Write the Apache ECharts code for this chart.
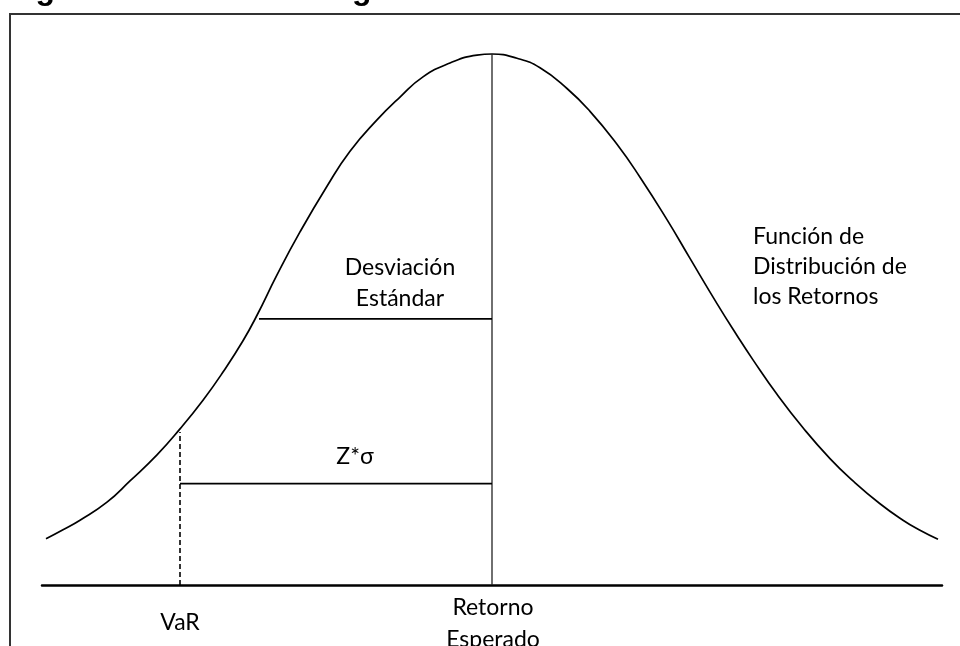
<!DOCTYPE html>
<html>
<head>
<meta charset="utf-8">
<title>Valor en Riesgo</title>
<script src="https://cdn.jsdelivr.net/npm/echarts@6/dist/echarts.min.js"></script>
<style>
    html, body { margin: 0; padding: 0; background: #fff; }
    #varChart { width: 960px; height: 646px; }
</style>
</head>
<body>
<div id="varChart"></div>
<script>
// curva: x = desplazamiento respecto a la media, y = altura relativa (pico = 100)
var curveX = [-446, -429, -412, -385, -362, -335, -312, -289, -269, -249, -235, -215, -192, -165, -142, -115, -92, -69, -42, -15, 0,
              25, 48, 75, 98, 125, 148, 175, 198, 225, 245, 261, 285, 311, 338, 361, 388, 411, 428, 446];
var curveY = [8.7, 10.4, 12.2, 15.6, 19.6, 24.5, 29.4, 34.8, 40.1, 46.0, 50.8, 58.4, 66.5, 75.1, 81.7, 87.6, 91.9, 95.7, 98.3, 99.8, 100,
              99.2, 97.4, 93.5, 89.2, 83.0, 76.8, 68.8, 61.5, 53.0, 47.0, 42.4, 35.9, 29.6, 23.8, 19.6, 15.3, 12.2, 10.3, 8.6];

var meanX = 0;
var stdX = -233;      // fin de la linea de desviacion estandar
var varX = -312;      // posicion del VaR
var stdLineY = 50.1;
var zLineY = 19.1;
var varTopY = 28.8;

var curveData = [];
for (var i = 0; i < curveX.length; i++) {
    curveData.push([curveX[i], curveY[i]]);
}

var labelFont = 'Lato, "Open Sans", sans-serif';

var varChart = echarts.init(document.getElementById('varChart'));
varChart.setOption({
    animation: false,
    grid: {
        left: 42,
        right: 18,
        top: 54,
        bottom: 61
    },
    xAxis: {
        type: 'value',
        min: -450,
        max: 450,
        axisLine: { show: true, lineStyle: { color: '#000', width: 2.5 } },
        axisTick: { show: false },
        axisLabel: { show: false },
        splitLine: { show: false }
    },
    yAxis: {
        type: 'value',
        min: 0,
        max: 100,
        axisLine: { show: false },
        axisTick: { show: false },
        axisLabel: { show: false },
        splitLine: { show: false }
    },
    series: [
        {
            name: 'Función de Distribución',
            type: 'line',
            smooth: true,
            symbol: 'none',
            clip: false,
            lineStyle: { color: '#000', width: 1.7 },
            data: curveData
        },
        {
            name: 'Retorno Esperado',
            type: 'line',
            symbol: 'none',
            clip: false,
            lineStyle: { color: '#222', width: 1.3 },
            data: [[meanX, 0], [meanX, 100]]
        },
        {
            name: 'Desviación Estándar',
            type: 'line',
            symbol: 'none',
            lineStyle: { color: '#000', width: 1.8 },
            data: [[stdX, stdLineY], [meanX, stdLineY]]
        },
        {
            name: 'Z*σ',
            type: 'line',
            symbol: 'none',
            lineStyle: { color: '#000', width: 1.8 },
            data: [[varX, zLineY], [meanX, zLineY]]
        },
        {
            name: 'VaR',
            type: 'line',
            symbol: 'none',
            lineStyle: { color: '#000', width: 1.6, type: [5, 3] },
            data: [[varX, 0], [varX, varTopY]]
        }
    ],
    graphic: [
        {   // marco de la figura
            type: 'rect',
            shape: { x: 10, y: 14, width: 1000, height: 700 },
            style: { fill: 'none', stroke: '#333', lineWidth: 2 },
            silent: true
        },
        {   // titulo recortado por el borde superior
            type: 'text',
            x: 7,
            y: -10,
            style: {
                text: 'Figura 5: Valor en Riesgo',
                font: 'bold 32px "Liberation Sans", Arial, sans-serif',
                fill: '#000',
                align: 'left',
                verticalAlign: 'middle'
            }
        },
        {
            type: 'text',
            x: 400,
            y: 283,
            style: {
                text: 'Desviación\nEstándar',
                font: '23px ' + labelFont,
                lineHeight: 31,
                fill: '#000',
                align: 'center',
                verticalAlign: 'middle'
            }
        },
        {
            type: 'text',
            x: 753,
            y: 267,
            style: {
                text: 'Función de\nDistribución de\nlos Retornos',
                font: '23px ' + labelFont,
                lineHeight: 30,
                fill: '#000',
                align: 'left',
                verticalAlign: 'middle'
            }
        },
        {
            type: 'text',
            x: 355,
            y: 457,
            style: {
                text: 'Z*σ',
                font: '23px ' + labelFont,
                fill: '#000',
                align: 'center',
                verticalAlign: 'middle'
            }
        },
        {
            type: 'text',
            x: 180,
            y: 623,
            style: {
                text: 'VaR',
                font: '23px ' + labelFont,
                fill: '#000',
                align: 'center',
                verticalAlign: 'middle'
            }
        },
        {
            type: 'text',
            x: 493,
            y: 624,
            style: {
                text: 'Retorno\nEsperado',
                font: '23px ' + labelFont,
                lineHeight: 32,
                fill: '#000',
                align: 'center',
                verticalAlign: 'middle'
            }
        }
    ]
});
</script>
</body>
</html>
